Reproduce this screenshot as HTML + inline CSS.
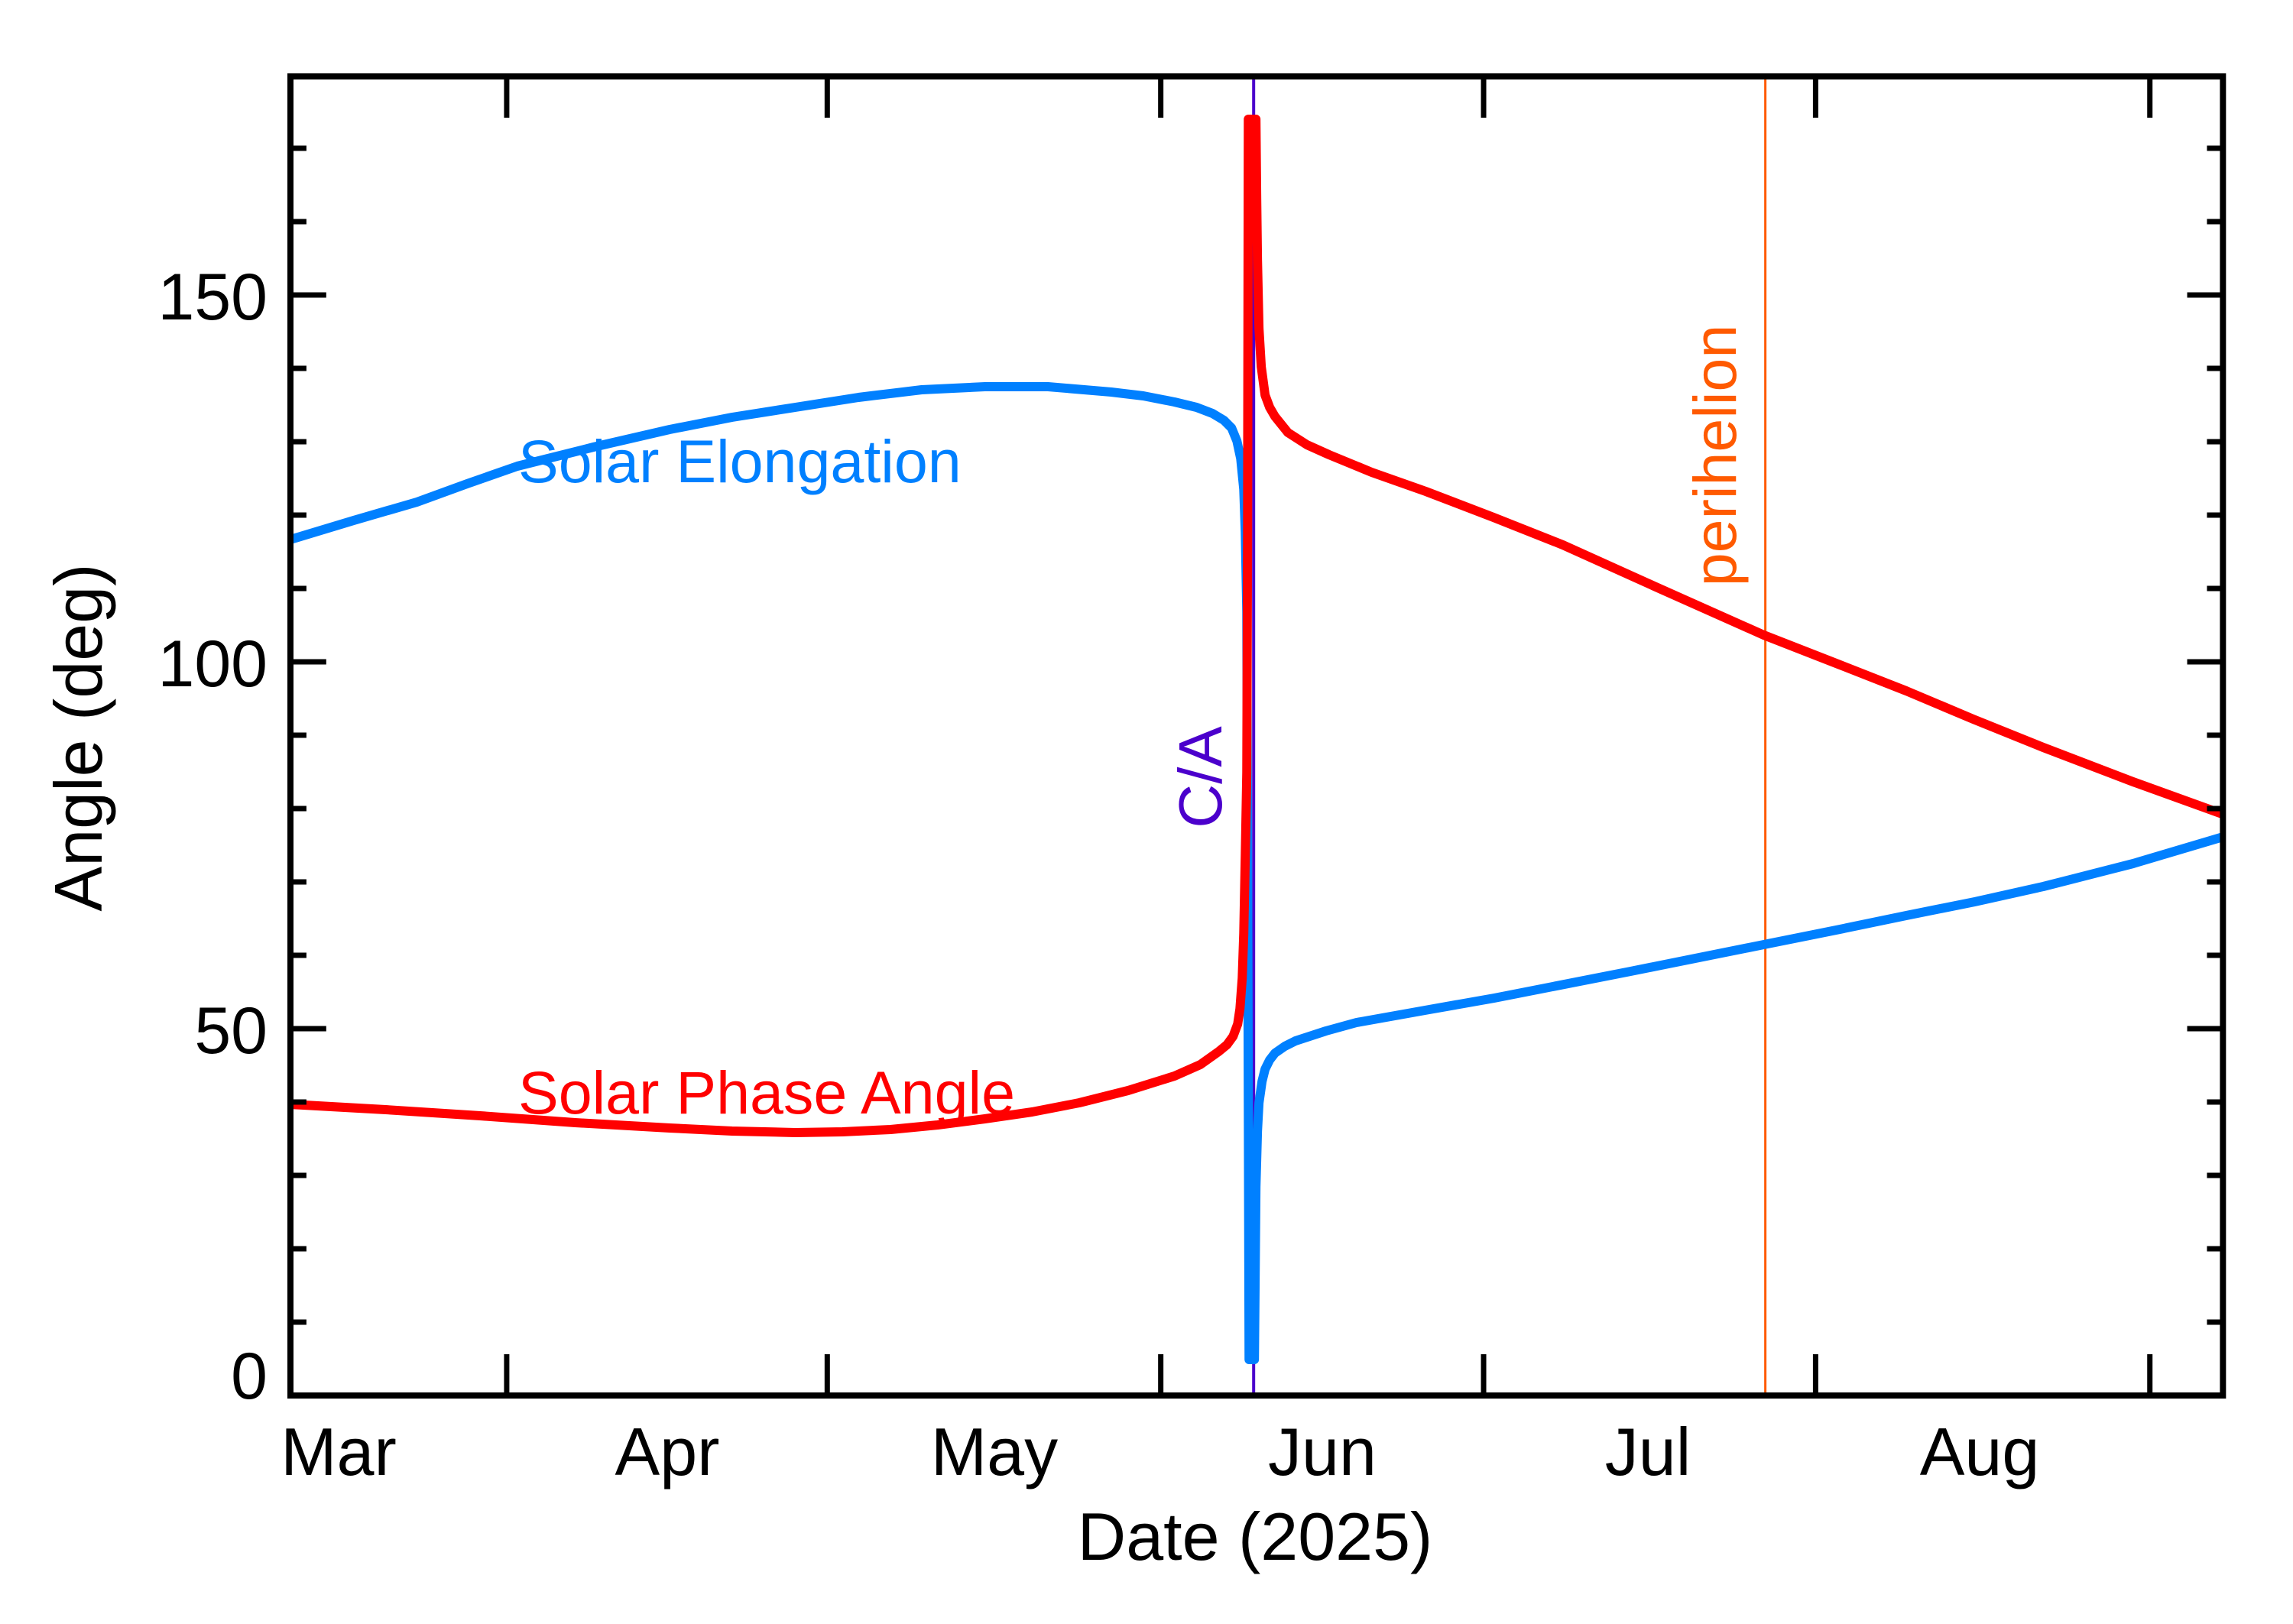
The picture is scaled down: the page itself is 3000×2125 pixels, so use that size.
<!DOCTYPE html>
<html><head><meta charset="utf-8"><style>
html,body{margin:0;padding:0;background:#fff;}
svg{display:block;}
text{font-family:"Liberation Sans",sans-serif;}
</style></head><body>
<svg width="3000" height="2125" viewBox="0 0 3000 2125" xmlns="http://www.w3.org/2000/svg">
<rect width="3000" height="2125" fill="#fff"/>
<defs><clipPath id="c"><rect x="380" y="100" width="2538" height="1726"/></clipPath></defs>
<g transform="translate(380,0) scale(0.9962,1) translate(-380,0)">
<g clip-path="url(#c)">
<line x1="1645" y1="100" x2="1645" y2="1826" stroke="#4b00cc" stroke-width="4"/>
<line x1="2317" y1="100" x2="2317" y2="1826" stroke="#ff5a00" stroke-width="3"/>
<polyline fill="none" stroke="#0080ff" stroke-width="12" stroke-linejoin="round" points="380,706 463,681 546,657 612,633 678,610 778,585 878,562 960,546 1043,533 1126,520 1209,510 1292,506 1375,506 1458,513 1500,518 1541,526 1570,533 1591,541 1606,550 1616,560 1623,577 1628,600 1632,640 1634,696 1636,800 1637,1112 1638,1443 1639,1779 1646,1779 1648,1553 1650,1480 1652,1443 1656,1415 1660,1399 1666,1387 1673,1378 1686,1369 1700,1362 1740,1349 1780,1338 1870,1322 1961,1306 2140,1271 2315,1236 2410,1217 2502,1198 2592,1180 2682,1160 2800,1130 2925,1093"/>
<polyline fill="none" stroke="#ff0000" stroke-width="12" stroke-linejoin="round" points="380,1445 505,1452 629,1460 754,1469 878,1476 960,1480 1043,1482 1105,1481 1168,1478 1230,1472 1292,1464 1354,1455 1416,1443 1480,1427 1541,1408 1575,1393 1599,1376 1610,1367 1618,1356 1624,1340 1627,1320 1630,1280 1632,1222 1634,1120 1636,1011 1637,700 1638,156 1648,156 1649,260 1650,340 1652,430 1655,480 1660,517 1666,533 1673,545 1690,566 1715,582 1744,595 1800,618 1871,643 1960,677 2051,713 2180,771 2315,831 2410,868 2502,904 2590,941 2682,978 2800,1023 2925,1068"/>
</g>
<g stroke="#000" stroke-width="7">
<path d="M380,1730h21M380,1634h21M380,1538h21M380,1442h21M380,1250h21M380,1154h21M380,1058h21M380,962h21M380,770h21M380,674h21M380,578h21M380,482h21M380,290h21M380,194h21"/>
<path d="M380,1346h47M380,866h47M380,386h47"/>
<path d="M2918,1730h-21M2918,1634h-21M2918,1538h-21M2918,1442h-21M2918,1250h-21M2918,1154h-21M2918,1058h-21M2918,962h-21M2918,770h-21M2918,674h-21M2918,578h-21M2918,482h-21M2918,290h-21M2918,194h-21"/>
<path d="M2918,1346h-47M2918,866h-47M2918,386h-47"/>
<path d="M664,1826v-54M1085,1826v-54M1523,1826v-54M1947,1826v-54M2383,1826v-54M2822,1826v-54"/>
<path d="M664,100v54M1085,100v54M1523,100v54M1947,100v54M2383,100v54M2822,100v54"/>
</g>
<rect x="380" y="100" width="2538" height="1726" fill="none" stroke="#000" stroke-width="8"/>
</g>
<g font-size="86" fill="#000" text-anchor="end">
<text x="350" y="418">150</text>
<text x="350" y="898">100</text>
<text x="350" y="1378">50</text>
<text x="350" y="1830">0</text>
</g>
<g font-size="88" fill="#000" text-anchor="middle">
<text x="443" y="1930">Mar</text>
<text x="873" y="1930">Apr</text>
<text x="1301" y="1930">May</text>
<text x="1730" y="1930">Jun</text>
<text x="2156" y="1930">Jul</text>
<text x="2590" y="1930">Aug</text>
<text x="1642" y="2041">Date (2025)</text>
<text transform="translate(133,965) rotate(-90)">Angle (deg)</text>
</g>
<text x="678" y="631" font-size="79" fill="#0080ff">Solar Elongation</text>
<text x="678" y="1457" font-size="79" fill="#ff0000">Solar Phase Angle</text>
<text transform="translate(1598,1017) rotate(-90)" font-size="80" fill="#4b00cc" text-anchor="middle">C/A</text>
<text transform="translate(2271,596) rotate(-90)" font-size="79" fill="#ff5a00" text-anchor="middle">perihelion</text>
</svg>
</body></html>
